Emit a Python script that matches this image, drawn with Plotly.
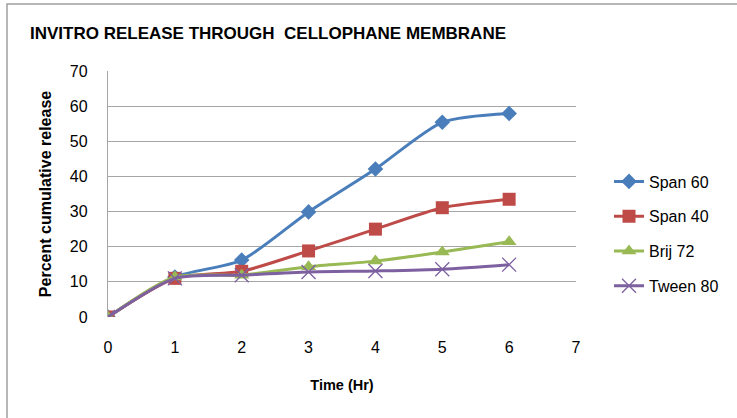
import plotly.graph_objects as go

time_hr = [0, 1, 2, 3, 4, 5, 6]
span60 = [0, 11.4, 16.2, 29.9, 42.1, 55.4, 57.9]
span40 = [0, 11.0, 13.0, 18.8, 25.0, 31.1, 33.5]
brij72 = [0, 11.4, 11.9, 14.3, 15.9, 18.5, 21.4]
tween80 = [0, 11.0, 11.9, 12.8, 13.1, 13.6, 14.9]

names = ["Span 60", "Span 40", "Brij 72", "Tween 80"]
series = [span60, span40, brij72, tween80]
colors = ["#4A7EBB", "#BE4B48", "#98B954", "#7D60A0"]
symbols = ["diamond", "square", "triangle-up", "x-thin-open"]
sizes = [12, 13, 13, 14]

FONT = "Liberation Sans, Arial, sans-serif"

fig = go.Figure()
for n, s, c, sym, sz in zip(names, series, colors, symbols, sizes):
    marker = dict(symbol=sym, size=sz, color=c)
    if sym == "x-thin-open":
        marker["line"] = dict(color=c, width=1.3)
    fig.add_trace(go.Scatter(
        x=time_hr, y=s, name=n, mode="lines+markers",
        line=dict(color=c, width=3, shape="spline", smoothing=0.7),
        marker=marker, legendgroup=n,
    ))

fig.update_layout(
    width=737, height=418,
    margin=dict(l=108, r=161, t=71, b=101),
    paper_bgcolor="white", plot_bgcolor="white",
    font=dict(family=FONT, size=15, color="#000000"),
    title=dict(text="<b>INVITRO RELEASE THROUGH  CELLOPHANE MEMBRANE</b>",
               x=268 / 737, xanchor="center", y=1 - 33 / 418, yanchor="middle",
               font=dict(family=FONT, size=17, color="#000000")),
    xaxis=dict(range=[0, 7], tickvals=list(range(8)), showgrid=False,
               zeroline=False, showline=False, ticks="",
               tickfont=dict(size=16), ticklabelstandoff=19,
               title=dict(text="<b>Time (Hr)</b>", font=dict(size=14.5), standoff=24)),
    yaxis=dict(range=[0, 70], tickvals=list(range(0, 80, 10)), showgrid=True,
               gridcolor="#A6A6A6", gridwidth=1.3, zeroline=False,
               showline=True, linecolor="#A6A6A6", linewidth=1.3, ticks="",
               tickfont=dict(size=16), ticklabelstandoff=16,
               title=dict(text="<b>Percent cumulative release</b>", font=dict(size=16), standoff=14)),
    legend=dict(x=(609 - 108) / 468, xanchor="left", y=(317 - 234) / 246, yanchor="middle",
                font=dict(size=16), tracegroupgap=11, bgcolor="rgba(0,0,0,0)"),
    showlegend=True,
    shapes=[dict(type="rect", xref="paper", yref="paper", x0=-101 / 468, x1=1.5,
                 y0=-2, y1=1 + 67 / 246, line=dict(color="#A0A0A0", width=1.5),
                 fillcolor="rgba(0,0,0,0)", layer="below")],
)
fig.write_html("out.html")
